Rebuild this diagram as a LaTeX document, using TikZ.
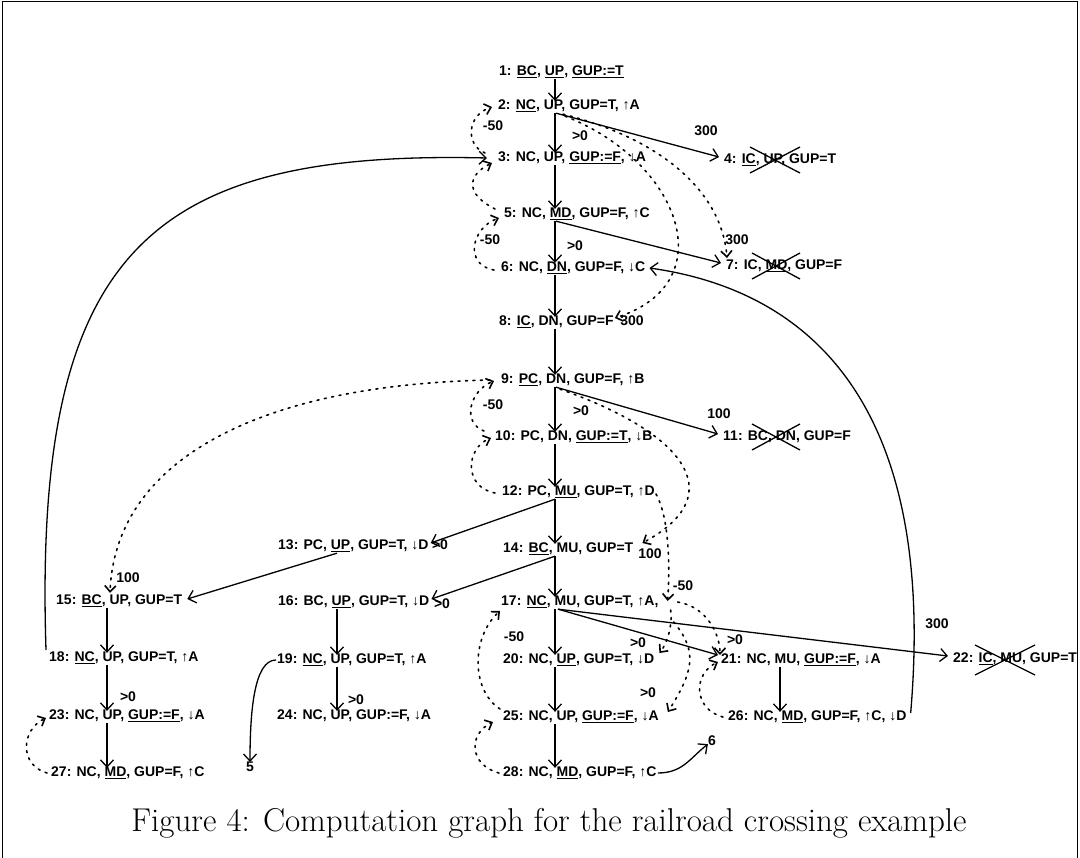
\documentclass[tikz,border=0pt]{standalone}
\usepackage{fontspec}
\setsansfont{Liberation Sans}
\usetikzlibrary{arrows.meta,calc}
\newcommand\uln[1]{\underline{#1}}
\begin{document}
\begin{tikzpicture}[x=1pt,y=-1pt,
 st/.style={font=\sffamily\bfseries\fontsize{14}{16}\selectfont, inner sep=1pt, anchor=west},
 lb/.style={font=\sffamily\bfseries\fontsize{14}{16}\selectfont, inner sep=0pt},
 ar/.style={line width=1.3pt, -{Straight Barb[length=7pt,width=13pt]}},
 dl/.style={line width=1.6pt, line cap=round, dash pattern=on 2pt off 5.5pt, -{Straight Barb[length=6pt,width=11pt]}},
 xo/.style={line width=1.3pt}]
\useasboundingbox (0,0) rectangle (1080,858);
\draw[line width=1pt] (2,870) -- (2,2) -- (1077,2) -- (1077,870);
\coordinate (c) at (555,0);
\coordinate (cm) at (337,0);
\coordinate (cl) at (107,0);
\coordinate (cr) at (780,0);
% nodes
\node[st] (n1) at (498,72) {1: \uln{BC}, \uln{UP}, \uln{GUP:=T}};
\node[st] (n2) at (497,106) {2: \uln{NC}, UP, GUP=T, ↑A};
\node[st] (n3) at (497,158) {3: NC, UP, \uln{GUP:=F}, ↓A};
\node[st] (n4) at (723,160) {4: \uln{IC}, UP, GUP=T};
\node[st] (n5) at (503,214) {5: NC, \uln{MD}, GUP=F, ↑C};
\node[st] (n6) at (500,268) {6: NC, \uln{DN}, GUP=F, ↓C};
\node[st] (n7) at (725,266) {7: IC, \uln{MD}, GUP=F};
\node[st] (n8) at (498,322) {8: \uln{IC}, DN, GUP=F};
\node[st] (n9) at (500,380) {9: \uln{PC}, DN, GUP=F, ↑B};
\node[st] (n10) at (494,437) {10: PC, DN, \uln{GUP:=T}, ↓B};
\node[st] (n11) at (722,437) {11: BC, DN, GUP=F};
\node[st] (n12) at (501,492) {12: PC, \uln{MU}, GUP=T, ↑D};
\node[st] (n13) at (277,546) {13: PC, \uln{UP}, GUP=T, ↓D};
\node[st] (n14) at (502,549) {14: \uln{BC}, MU, GUP=T};
\node[st] (n15) at (55,601) {15: \uln{BC}, UP, GUP=T};
\node[st] (n16) at (277,602) {16: BC, \uln{UP}, GUP=T, ↓D};
\node[st] (n17) at (500,602) {17: \uln{NC}, MU, GUP=T, ↑A,};
\node[st] (n18) at (48,658) {18: \uln{NC}, UP, GUP=T, ↑A};
\node[st] (n19) at (276,660) {19: \uln{NC}, UP, GUP=T, ↑A};
\node[st] (n20) at (502,660) {20: NC, \uln{UP}, GUP=T, ↓D};
\node[st] (n21) at (720,660) {21: NC, MU, \uln{GUP:=F}, ↓A};
\node[st] (n22) at (952,659) {22: \uln{IC}, MU, GUP=T};
\node[st] (n23) at (48,716) {23: NC, UP, \uln{GUP:=F}, ↓A};
\node[st] (n24) at (276,716) {24: NC, UP, GUP:=F, ↓A};
\node[st] (n25) at (502,717) {25: NC, UP, \uln{GUP:=F}, ↓A};
\node[st] (n26) at (727,717) {26: NC, \uln{MD}, GUP=F, ↑C, ↓D};
\node[st] (n27) at (50,773) {27: NC, \uln{MD}, GUP=F, ↑C};
\node[st] (n28) at (502,773) {28: NC, \uln{MD}, GUP=F, ↑C};
\node[lb] (t5) at (250,767) {5};
\node[lb] (t6) at (712,741) {6};
% crosses
\draw[xo] ($(n4.west)+(27,-13)$) -- ($(n4.west)+(77,13)$) ($(n4.west)+(27,13)$) -- ($(n4.west)+(77,-13)$);
\draw[xo] ($(n7.west)+(27,-13)$) -- ($(n7.west)+(75,13)$) ($(n7.west)+(27,13)$) -- ($(n7.west)+(75,-13)$);
\draw[xo] ($(n11.west)+(30,-13)$) -- ($(n11.west)+(78,13)$) ($(n11.west)+(30,13)$) -- ($(n11.west)+(78,-13)$);
\draw[xo] ($(n22.west)+(23,-14)$) -- ($(n22.west)+(83,16)$) ($(n22.west)+(23,16)$) -- ($(n22.west)+(83,-14)$);
% vertical solid edges
\foreach \a/\b in {n1/n2,n2/n3,n3/n5,n5/n6,n6/n8,n8/n9,n9/n10,n10/n12,n12/n14,n14/n17,n17/n20,n20/n25,n25/n28}
  \draw[ar] (\a.south -| c) -- ($(\b.north -| c)+(0,2)$);
\foreach \a/\b in {n15/n18,n18/n23,n23/n27}
  \draw[ar] (\a.south -| cl) -- ($(\b.north -| cl)+(0,2)$);
\foreach \a/\b in {n16/n19,n19/n24}
  \draw[ar] (\a.south -| cm) -- ($(\b.north -| cm)+(0,2)$);
\draw[ar] (n21.south -| cr) -- ($(n26.north -| cr)+(0,2)$);
% diagonal solid edges
\draw[ar] ($(n2.south -| c)+(1,0)$) -- ($(n4.west)+(-4,-3)$);
\draw[ar] ($(n5.south -| c)+(1,0)$) -- ($(n7.west)+(-4,-3)$);
\draw[ar] ($(n9.south -| c)+(1,0)$) -- ($(n11.west)+(-4,-3)$);
\draw[ar] ($(n12.south -| c)+(0,0)$) -- ($(n13.east)+(1,-3)$);
\draw[ar] ($(n14.south -| c)+(0,0)$) -- ($(n16.east)+(1,-3)$);
\draw[ar] ($(n13.south -| cm)+(0,0)$) -- ($(n15.east)+(4,-2)$);
\draw[ar] ($(n17.south -| c)+(3,0)$) -- ($(n21.west)+(-2,-5)$);
\draw[ar] ($(n17.south -| c)+(3,0)$) -- ($(n22.west)+(-4,-3)$);
% big solid arcs
\draw[ar] ($(n18.west)+(-2,-8)$) .. controls +(-13,-400) and +(-337,-8) .. ($(n3.west)+(-10,0)$);
\draw[ar] ($(n26.east)+(3,-4)$) .. controls +(27,-315) and +(155,22) .. ($(n6.east)+(3,0)$);
\draw[ar] (n19.west) .. controls +(-22,0) and +(0,-50) .. (t5.north);
\draw[ar] (n28.east) .. controls +(25,0) and +(-18,14) .. ($(t6.south west)+(0,-2)$);
% dashed loops (left)
\draw[dl] ($(n3.west)+(-12,-5)$) .. controls +(-20,-8) and +(-25,8) .. ($(n2.west)+(-5,1)$);
\draw[dl] ($(n5.west)+(-8,-5)$) .. controls +(-30,-15) and +(-25,12) .. ($(n3.west)+(-5,5)$);
\draw[dl] ($(n6.west)+(-6,2)$) .. controls +(-30,-5) and +(-28,10) .. ($(n5.west)+(-4,4)$);
\draw[dl] ($(n10.west)+(-10,-6)$) .. controls +(-22,-8) and +(-25,10) .. ($(n9.west)+(-6,1)$);
\draw[dl] ($(n12.west)+(-6,1)$) .. controls +(-32,-6) and +(-25,10) .. ($(n10.west)+(-3,1)$);
\draw[dl] ($(n25.west)+(-2,-8)$) .. controls +(-30,-20) and +(-28,25) .. ($(n17.west)+(0,9)$);
\draw[dl] ($(n28.west)+(-3,0)$) .. controls +(-30,-8) and +(-25,12) .. ($(n25.west)+(-9,5)$);
\draw[dl] ($(n27.west)+(-3,0)$) .. controls +(-28,-8) and +(-25,12) .. ($(n23.west)+(-2,2)$);
\draw[dl] ($(n26.west)+(-4,0)$) .. controls +(-30,-8) and +(-25,12) .. ($(n21.west)+(-2,2)$);
% dashed (right / long)
\draw[dl] ($(n2.south -| c)+(8,1)$) .. controls +(100,25) and +(-5,-65) .. ($(n7.west)+(2,-8)$);
\draw[dl] ($(n2.south -| c)+(10,3)$) .. controls +(115,45) and +(110,-35) .. ($(n8.east)+(0,-4)$);
\draw[dl] ($(n9.south -| c)+(5,2)$) .. controls +(120,42) and +(92,-50) .. ($(n14.east)+(8,-6)$);
\draw[dl] ($(n9.west)+(-10,0)$) .. controls +(-240,5) and +(5,-128) .. ($(n15.north -| cl)+(3,-1)$);
\draw[dl] ($(n12.east)+(0,2)$) .. controls +(14,25) and +(2,-30) .. ($(n17.east)+(8,-1)$);
\draw[dl] ($(n17.east)+(18,0)$) .. controls +(30,5) and +(0,-20) .. ($(n21.west)+(0,-5)$);
\draw[dl] ($(n17.east)+(11,8)$) .. controls +(2,15) and +(8,-10) .. ($(n20.east)+(4,-7)$);
\draw[dl] ($(n17.east)+(14,20)$) .. controls +(25,30) and +(25,-40) .. ($(n25.east)+(8,-5)$);
% labels
\node[lb] (l1) at (580,136) {>0};
\node[lb] (l2) at (706,131) {300};
\node[lb] (l3) at (493,126) {-50};
\node[lb] (l4) at (575,246) {>0};
\node[lb] (l5) at (490,240) {-50};
\node[lb] (l6) at (737,240) {300};
\node[lb] (l7) at (632,321) {300};
\node[lb] (l8) at (581,411) {>0};
\node[lb] (l9) at (493,405) {-50};
\node[lb] (l10) at (719,414) {100};
\node[lb] (l11) at (440,545) {>0};
\node[lb] (l12) at (650,554) {100};
\node[lb] (l13) at (442,604) {>0};
\node[lb] (l14) at (128,578) {100};
\node[lb] (l15) at (683,586) {-50};
\node[lb] (l16) at (514,637) {-50};
\node[lb] (l17) at (638,643) {>0};
\node[lb] (l18) at (735,640) {>0};
\node[lb] (l19) at (937,624) {300};
\node[lb] (l20) at (128,697) {>0};
\node[lb] (l21) at (356,700) {>0};
\node[lb] (l22) at (648,693) {>0};
% caption
\node[font=\fontsize{33}{38}\selectfont, inner sep=0pt] (cap) at (549,823) {Figure 4: Computation graph for the railroad crossing example};
\end{tikzpicture}
\end{document}
